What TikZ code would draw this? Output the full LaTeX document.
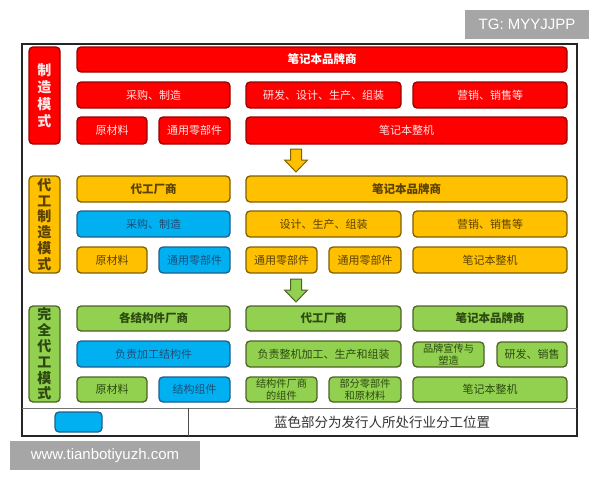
\documentclass[tikz,border=0pt]{standalone}
\usepackage{fontspec}
\setmainfont{Liberation Sans}
\newfontfamily\cjk{Noto Sans CJK SC}
\definecolor{rfill}{HTML}{FF0000}
\definecolor{rline}{HTML}{9A0000}
\definecolor{rtext}{HTML}{FFE6E6}
\definecolor{ofill}{HTML}{FFC000}
\definecolor{oline}{HTML}{7F6000}
\definecolor{otext}{HTML}{5A4200}
\definecolor{gfill}{HTML}{92D050}
\definecolor{gline}{HTML}{4F6228}
\definecolor{gtext}{HTML}{2C4A10}
\definecolor{bfill}{HTML}{00B0F0}
\definecolor{bline}{HTML}{1F5F8B}
\definecolor{btext}{HTML}{1F4E79}
\definecolor{wmark}{HTML}{A6A6A6}
\newcommand\bx[7]{\node[#2, minimum width={#5-#3}, minimum height={#6-#4}] (#1) at ({(#3+#5)/2},{(#4+#6)/2}) {#7};}
\begin{document}
\begin{tikzpicture}[x=1pt,y=-1pt,
  base/.style={rounded corners=4pt, line width=1.3pt, inner sep=0pt, align=center, font=\cjk\fontsize{11}{12}\selectfont},
  rbox/.style={base, fill=rfill, draw=rline, text=rtext},
  obox/.style={base, fill=ofill, draw=oline, text=otext},
  gbox/.style={base, fill=gfill, draw=gline, text=gtext},
  bbox/.style={base, fill=bfill, draw=bline, text=btext},
  hd/.style={font=\cjk\bfseries\fontsize{11.5}{12}\selectfont},
  sm/.style={font=\cjk\fontsize{10.2}{11.2}\selectfont},
  lab/.style={font=\cjk\bfseries\fontsize{14}{17}\selectfont},
  labs/.style={font=\cjk\bfseries\fontsize{14}{15.8}\selectfont},
  wm/.style={fill=wmark, text=white, inner sep=0pt, font=\fontsize{15}{16}\selectfont},
  arr/.style={line width=1pt}]
\useasboundingbox (0,0) rectangle (600,480);
% watermarks
\bx{tg}{wm}{465}{10}{589}{39}{TG: MYYJJPP}
% frame
\node[draw=black!85, line width=1.6pt, minimum width=555, minimum height=392, inner sep=0pt] (frame) at (299.5,240) {};
\coordinate (sepL) at (22,408);
\coordinate (sepR) at (577,408);
\coordinate (vt) at (188,408);
\coordinate (vb) at (188,436);
\draw[black!55, line width=0.8pt] (sepL) -- (sepR);
\draw[black!70, line width=0.8pt] (vt) -- (vb);
% section 1 red
\bx{l1}{rbox,lab}{29}{47}{60}{144}{制\\造\\模\\式}
\bx{r11}{rbox,hd,text=white}{77}{47}{567}{72}{笔记本品牌商}
\bx{r21}{rbox}{77}{82}{230}{108}{采购、制造}
\bx{r22}{rbox}{246}{82}{401}{108}{研发、设计、生产、组装}
\bx{r23}{rbox}{413}{82}{567}{108}{营销、销售等}
\bx{r31}{rbox}{77}{117}{147}{144}{原材料}
\bx{r32}{rbox}{159}{117}{230}{144}{通用零部件}
\bx{r33}{rbox}{246}{117}{567}{144}{笔记本整机}
% arrow 1
\draw[arr, fill=ofill, draw=oline] (290.5,149) -- (301.5,149) -- (301.5,160) -- (307.5,160) -- (296,172) -- (284.5,160) -- (290.5,160) -- cycle;
% section 2 orange
\bx{l2}{obox,labs}{29}{176}{60}{273}{代\\工\\制\\造\\模\\式}
\bx{o11}{obox,hd}{77}{176}{230}{202}{代工厂商}
\bx{o12}{obox,hd}{246}{176}{567}{202}{笔记本品牌商}
\bx{o21}{bbox}{77}{211}{230}{237}{采购、制造}
\bx{o22}{obox}{246}{211}{401}{237}{设计、生产、组装}
\bx{o23}{obox}{413}{211}{567}{237}{营销、销售等}
\bx{o31}{obox}{77}{247}{147}{273}{原材料}
\bx{o32}{bbox}{159}{247}{230}{273}{通用零部件}
\bx{o33}{obox}{246}{247}{317}{273}{通用零部件}
\bx{o34}{obox}{329}{247}{401}{273}{通用零部件}
\bx{o35}{obox}{413}{247}{567}{273}{笔记本整机}
% arrow 2
\draw[arr, fill=gfill, draw=gline] (290.5,279) -- (301.5,279) -- (301.5,290) -- (307.5,290) -- (296,302) -- (284.5,290) -- (290.5,290) -- cycle;
% section 3 green
\bx{l3}{gbox,labs}{29}{306}{60}{402}{完\\全\\代\\工\\模\\式}
\bx{g11}{gbox,hd}{77}{306}{230}{331}{各结构件厂商}
\bx{g12}{gbox,hd}{246}{306}{401}{331}{代工厂商}
\bx{g13}{gbox,hd}{413}{306}{567}{331}{笔记本品牌商}
\bx{g21}{bbox}{77}{341}{230}{367}{负责加工结构件}
\bx{g22}{gbox}{246}{341}{401}{367}{负责整机加工、生产和组装}
\bx{g23}{gbox,sm}{413}{342}{484}{367}{品牌宣传与\\塑造}
\bx{g24}{gbox}{497}{342}{567}{367}{研发、销售}
\bx{g31}{gbox}{77}{377}{147}{402}{原材料}
\bx{g32}{bbox}{159}{377}{230}{402}{结构组件}
\bx{g33}{gbox,sm}{246}{377}{317}{402}{结构件厂商\\的组件}
\bx{g34}{gbox,sm}{329}{377}{401}{402}{部分零部件\\和原材料}
\bx{g35}{gbox}{413}{377}{567}{402}{笔记本整机}
% legend
\bx{leg}{bbox}{55}{412}{102}{432}{}
\node[font=\cjk\fontsize{13.5}{14}\selectfont, text=black!80] (legtxt) at (382,422) {蓝色部分为发行人所处行业分工位置};
\bx{www}{wm}{10}{441}{200}{470}{www.tianbotiyuzh.com}
\end{tikzpicture}
\end{document}
